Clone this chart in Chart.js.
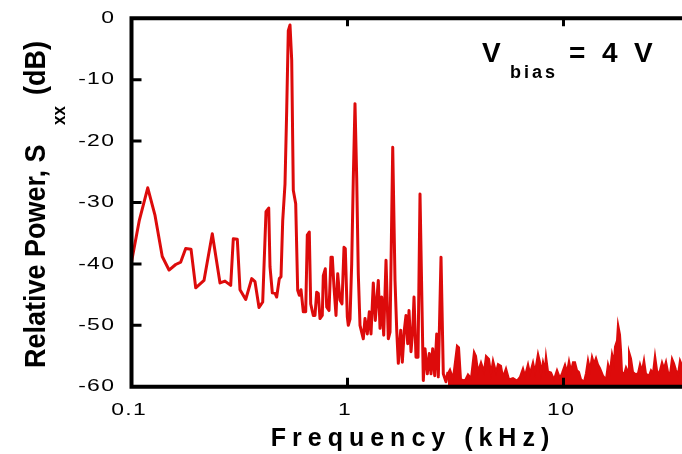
<!DOCTYPE html>
<html><head><meta charset="utf-8">
<script src="https://cdn.jsdelivr.net/npm/chart.js@4/dist/chart.umd.min.js"></script>
<style>html,body{margin:0;padding:0;background:#fff;overflow:hidden}canvas{display:block}</style>
</head><body>
<canvas id="c" width="682" height="454"></canvas>
<script>
// ---- data ----
const lowFreq = [0.1,0.1087,0.1189,0.1285,0.1388,0.1492,0.1602,0.1690,0.1782,0.1886,0.1983,0.2166,0.2366,0.2569,0.2709,0.2879,0.2960,0.3089,0.3179,0.3379,0.3602,0.3731,0.3894,0.4050,0.4195,0.4318,0.4378,0.4487,0.4618,0.4701,0.4834,0.4922,0.5012,0.5136,0.5230,0.5320,0.5418,0.5517,0.5612,0.5757,0.5880,0.5983,0.6091,0.6243,0.6404,0.6515,0.6654,0.6755,0.6945,0.7071,0.7201,0.7325,0.7459,0.7643,0.7727,0.7892,0.8011,0.8211,0.8387,0.8504,0.8660,0.8847,0.9008,0.9232,0.9430,0.9634,0.9768,0.9979,1.0086,1.0271,1.0457,1.0639,1.0832,1.1031,1.1220,1.1426,1.1834,1.2050,1.2351,1.2616,1.2848,1.3166,1.3450,1.3888,1.4143,1.4400,1.4712,1.5077,1.5452,1.5735,1.6195,1.6596,1.6900,1.7191,1.7636,1.7939,1.8323,1.8657,1.9000,1.9265,1.9681,2.0043,2.0322,2.0759,2.1206,2.1662,2.2059,2.2438,2.2850,2.3416,2.3921,2.4360,2.4802,2.5338,2.5886,2.6331,2.7099,2.7769,2.8576,2.9194];
const lowDb = [-39.7,-32.9,-27.6,-32.1,-38.8,-41.0,-40.1,-39.7,-37.5,-37.6,-43.9,-42.7,-35.1,-43.1,-42.8,-43.5,-35.9,-36.0,-44.2,-45.8,-42.4,-42.9,-47.1,-46.2,-31.5,-30.9,-40.5,-44.7,-44.8,-45.4,-42.4,-42.1,-33.0,-27.0,-15.0,-2.0,-1.1,-6.8,-28.0,-30.2,-44.3,-45.1,-44.2,-47.8,-47.8,-35.3,-34.8,-46.5,-48.4,-48.4,-44.6,-44.8,-48.9,-48.4,-41.9,-40.8,-47.0,-47.6,-38.9,-38.9,-43.8,-48.4,-41.6,-45.9,-46.5,-37.3,-37.5,-48.6,-50.0,-49.0,-40.0,-26.0,-13.9,-26.0,-41.6,-50.0,-52.2,-48.9,-51.4,-47.8,-51.4,-43.1,-49.2,-42.7,-50.5,-45.4,-51.6,-39.4,-52.2,-51.1,-21.0,-42.7,-50.8,-56.2,-50.8,-56.0,-50.8,-48.4,-53.0,-47.6,-54.3,-50.8,-45.4,-55.2,-55.2,-28.6,-44.3,-59.0,-53.8,-57.9,-54.6,-57.9,-53.8,-58.2,-51.4,-58.4,-38.9,-57.9,-59.2,-57.6];
const highFreq = [2.919,2.982,3.079,3.213,3.283,3.353,3.499,3.613,3.731,3.852,3.935,4.020,4.150,4.285,4.378,4.520,4.617,4.717,4.870,4.975,5.136,5.247,5.418,5.594,5.837,6.092,6.290,6.494,6.634,6.850,6.997,7.225,7.381,7.620,7.784,7.868,8.037,8.210,8.298,8.477,8.753,9.037,9.331,9.634,9.842,10.162,10.381,10.604,10.833,11.066,11.305,11.548,11.797,12.051,12.443,12.711,12.985,13.265,13.551,13.843,14.141,14.446,14.757,15.237,15.732,16.071,16.417,16.771,17.132,17.316,17.689,17.879,18.264,18.460,18.658,19.060,19.471,19.890,20.103,20.536,20.979,21.661,22.128,22.605,23.092,23.590,24.098,24.881,25.417,25.965,26.524,27.096,27.680,28.579,29.195,29.824,30.467,31.124,31.794,32.479,33.179,33.894,34.624,35.37];
const highDb = [-57.8,-57.2,-58.6,-53.3,-53.6,-58.8,-59.0,-58.0,-58.6,-54.3,-55.0,-57.5,-56.0,-57.5,-55.0,-55.5,-57.8,-55.7,-57.6,-56.3,-56.6,-58.4,-57.0,-58.8,-58.6,-59.0,-58.4,-57.0,-58.2,-56.3,-57.8,-56.0,-57.6,-54.6,-56.0,-57.8,-55.9,-57.2,-55.0,-57.5,-57.7,-58.8,-57.3,-58.6,-57.8,-56.4,-57.6,-55.8,-57.4,-56.0,-56.0,-57.3,-57.6,-58.8,-59.2,-57.8,-55.6,-57.2,-55.1,-56.2,-55.3,-56.4,-57.0,-58.2,-58.8,-56.3,-57.5,-54.6,-56.0,-53.5,-52.5,-49.8,-51.5,-54.0,-57.6,-58.0,-56.8,-57.5,-54.3,-55.4,-57.6,-58.0,-57.8,-56.3,-57.4,-55.6,-57.9,-58.2,-57.3,-57.8,-54.9,-57.3,-58.0,-56.0,-57.0,-55.9,-57.6,-58.0,-55.4,-56.2,-57.3,-58.0,-55.7,-56.5];
const xTicks = [0.1, 1, 10];
const xTickLabels = ['0.1', '1', '10'];
const yTicks = [0, -10, -20, -30, -40, -50, -60];
const yTickLabels = ['0', '-10', '-20', '-30', '-40', '-50', '-60'];
const xMin = 0.1, xMax = 35.37, yMin = -60, yMax = 0;

const RED = '#dd0b0b';
const FONT = "'Liberation Sans', Arial, Helvetica, sans-serif";

function drawText(ctx, text, x, y, o) {
  ctx.save();
  ctx.font = o.font;
  const ls = o.ls || 0;
  try { ctx.letterSpacing = ls + 'px'; } catch (e) {}
  ctx.fillStyle = '#000';
  ctx.textBaseline = o.baseline || 'alphabetic';
  ctx.textAlign = 'left';
  const w = ctx.measureText(text).width - ls;
  ctx.translate(x, y);
  if (o.rot) ctx.rotate(o.rot);
  ctx.scale(o.sx || 1, o.sy || 1);
  let off = 0;
  if (o.align === 'center') off = -w / 2; else if (o.align === 'right') off = -w;
  ctx.fillText(text, off, 0);
  ctx.restore();
  return w;
}

const framePlugin = {
  id: 'frame',
  afterDatasetsDraw(chart) {
    const { ctx, chartArea: a, scales: { x, y } } = chart;
    ctx.save();
    ctx.strokeStyle = '#000';
    ctx.lineCap = 'butt';
    ctx.lineWidth = 3;
    ctx.beginPath();
    yTicks.forEach(v => {
      if (v === yMin || v === yMax) return;
      const py = y.getPixelForValue(v);
      ctx.moveTo(a.left, py); ctx.lineTo(a.left + 10, py);
    });
    xTicks.forEach(v => {
      const px = x.getPixelForValue(v);
      if (px <= a.left + 3) return;
      ctx.moveTo(px, a.bottom); ctx.lineTo(px, a.bottom - 9);
      ctx.moveTo(px, a.top); ctx.lineTo(px, a.top + 8);
    });
    ctx.stroke();
    ctx.lineWidth = 4;
    ctx.lineCap = 'square';
    ctx.beginPath();
    ctx.moveTo(a.right + 4, a.top); ctx.lineTo(a.left, a.top); ctx.lineTo(a.left, a.bottom); ctx.lineTo(a.right + 4, a.bottom);
    ctx.stroke();
    ctx.restore();

    yTicks.forEach((v, i) => {
      drawText(ctx, yTickLabels[i], 114, y.getPixelForValue(v), { font: '17px ' + FONT, ls: 1, sx: 1.35, baseline: 'middle', align: 'right' });
    });
    xTicks.forEach((v, i) => {
      drawText(ctx, xTickLabels[i], x.getPixelForValue(v) - 3, 410, { font: '17px ' + FONT, ls: 1, sx: 1.35, baseline: 'middle', align: 'center' });
    });
    drawText(ctx, 'Frequency (kHz)', 410, 446, { font: 'bold 25px ' + FONT, ls: 6, align: 'center' });
    const rot = -Math.PI / 2;
    drawText(ctx, 'Relative Power, S', 45, 368, { font: 'bold 27px ' + FONT, rot, sy: 1.1 });
    drawText(ctx, 'xx', 65, 125, { font: 'bold 17px ' + FONT, rot, sy: 1.1 });
    drawText(ctx, '(dB)', 45, 95, { font: 'bold 27px ' + FONT, rot, sy: 1.1 });
    drawText(ctx, 'V', 482, 62, { font: 'bold 28px ' + FONT });
    drawText(ctx, 'bias', 510, 78, { font: 'bold 18px ' + FONT, ls: 3 });
    drawText(ctx, '= 4 V', 569, 62, { font: 'bold 28px ' + FONT, ls: 4.4 });
  }
};

new Chart(document.getElementById('c'), {
  type: 'line',
  data: {
    datasets: [
      { data: lowFreq.map((f, i) => ({ x: f, y: lowDb[i] })), borderColor: RED, borderWidth: 3, pointRadius: 0, fill: false, tension: 0, borderJoinStyle: 'round' },
      { data: highFreq.map((f, i) => ({ x: f, y: highDb[i] })), borderColor: RED, backgroundColor: RED, borderWidth: 2, pointRadius: 0, tension: 0, fill: { value: yMin } }
    ]
  },
  options: {
    responsive: false, animation: false, events: [],
    layout: { padding: { top: 18.3, right: 0, bottom: 0, left: 0 } },
    plugins: { legend: { display: false }, tooltip: { enabled: false } },
    scales: {
      x: { type: 'logarithmic', min: xMin, max: xMax, grid: { display: false }, border: { display: false }, ticks: { display: false }, afterFit(s) { s.height = 67.3; } },
      y: { min: yMin, max: yMax, grid: { display: false }, border: { display: false }, ticks: { display: false }, afterFit(s) { s.width = 131.5; } }
    }
  },
  plugins: [framePlugin]
});
</script>
</body></html>
